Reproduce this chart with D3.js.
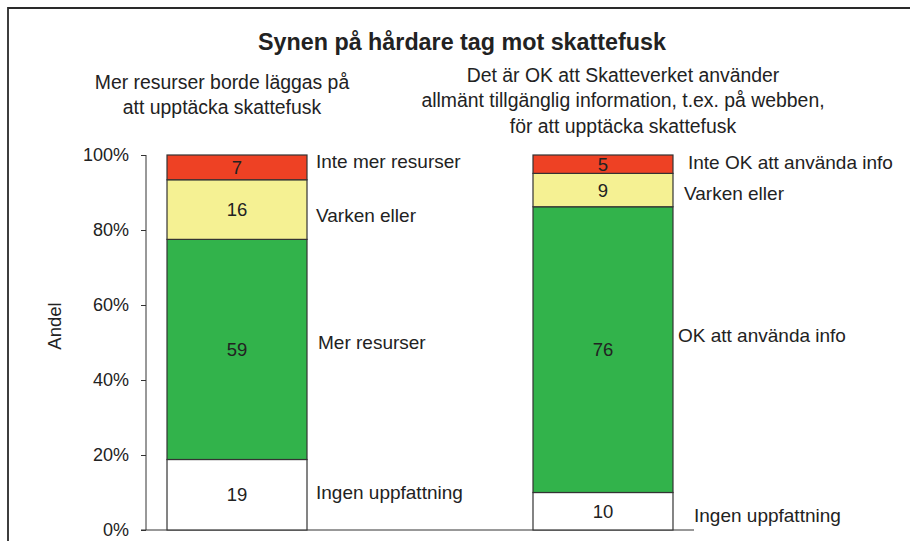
<!DOCTYPE html>
<html>
<head>
<meta charset="utf-8">
<script src="https://cdn.jsdelivr.net/npm/d3@7"></script>
<style>
  body { margin: 0; background: #fff; }
  svg text { font-family: "Liberation Sans", Arial, sans-serif; fill: #222; }
</style>
</head>
<body>
<div id="chart"></div>
<script>
// data
var questions = ["resurser", "info"];
var subtitles = [
	["Mer resurser borde läggas på", "att upptäcka skattefusk"],
	["Det är OK att Skatteverket använder", "allmänt tillgänglig information, t.ex. på webben,", "för att upptäcka skattefusk"]
];
var segmentNames = [
	["Ingen uppfattning", "Mer resurser", "Varken eller", "Inte mer resurser"],
	["Ingen uppfattning", "OK att använda info", "Varken eller", "Inte OK att använda info"]
];
// shares in percent, bottom to top
var shares = [
	[18.8, 58.7, 15.9, 6.6],
	[10.0, 76.2, 8.9, 4.9]
];
var segmentColors = ["#ffffff", "#32b34b", "#f5f193", "#ee4124"];
var yTicks = [0, 20, 40, 60, 80, 100];

// hand-placed label nudges (dx from bar edge, dy from segment middle)
var labelNudge = [
	[[9, -2], [11, -7], [9, 6], [9, -6]],
	[[21, 4], [5, -14], [11, 3], [15, -2]]
];

var width = 910, height = 541;
var margin = {top: 155, bottom: 11, left: 146};

var svg = d3.select("#chart").append("svg")
	.attr("width", width)
	.attr("height", height);

// frame
svg.append("path")
	.attr("d", "M8," + height + "V8H" + width)
	.attr("fill", "none")
	.attr("stroke", "#2a2a2a")
	.attr("stroke-width", 1.8);

var x = d3.scaleBand().domain(questions).range([146, 694])
	.paddingInner(0.6175).paddingOuter(0.0574);
var y = d3.scaleLinear().domain([0, 100]).range([height - margin.bottom, margin.top]);

// title
svg.append("text")
	.attr("x", 462).attr("y", 50)
	.attr("text-anchor", "middle")
	.style("font-size", "23.3px")
	.style("font-weight", "bold")
	.text("Synen på hårdare tag mot skattefusk");

// subtitles
var subX = [222, 623], subY = [82, 75];
subtitles.forEach(function(lines, i) {
	svg.append("g").selectAll("text")
		.data(lines).enter().append("text")
		.attr("x", subX[i])
		.attr("y", function(d, j) { return subY[i] + j * 25.5; })
		.attr("dy", "0.35em")
		.attr("text-anchor", "middle")
		.style("font-size", "19.4px")
		.text(function(d) { return d; });
});

// y axis
var yAxis = d3.axisLeft(y).tickValues(yTicks).tickSize(5).tickPadding(12)
	.tickFormat(function(d) { return d + "%"; });
var gy = svg.append("g")
	.attr("transform", "translate(" + margin.left + ",0)")
	.call(yAxis);
gy.select(".domain").attr("d", "M0," + y(0) + "V" + y(100)).attr("stroke", "#333");
gy.selectAll(".tick line").attr("stroke", "#333");
gy.selectAll(".tick text").style("font-size", "18px").attr("fill", "#222")
	.style("font-family", "'Liberation Sans', Arial, sans-serif");

// baseline
svg.append("line")
	.attr("x1", margin.left - 5).attr("x2", x.range()[1])
	.attr("y1", y(0)).attr("y2", y(0))
	.attr("stroke", "#333");

svg.append("text")
	.attr("transform", "translate(55," + 326 + ") rotate(-90)")
	.attr("text-anchor", "middle")
	.attr("dy", "0.35em")
	.style("font-size", "18.5px")
	.text("Andel");

// stacked bars
questions.forEach(function(q, i) {
	var vals = shares[i];
	var stacked = [], acc = 0;
	vals.forEach(function(v, j) {
		stacked.push({y0: acc, y1: acc + v, v: v, j: j});
		acc += v;
	});
	var g = svg.append("g");
	g.selectAll("rect")
		.data(stacked).enter().append("rect")
		.attr("x", x(q))
		.attr("width", x.bandwidth())
		.attr("y", function(d) { return y(d.y1); })
		.attr("height", function(d) { return y(d.y0) - y(d.y1); })
		.attr("fill", function(d) { return segmentColors[d.j]; })
		.attr("stroke", "#333")
		.attr("stroke-width", 1.2);
	g.selectAll("text.val")
		.data(stacked).enter().append("text")
		.attr("class", "val")
		.attr("x", x(q) + x.bandwidth() / 2)
		.attr("y", function(d) { return y((d.y0 + d.y1) / 2); })
		.attr("dy", "0.35em")
		.attr("text-anchor", "middle")
		.style("font-size", "18.5px")
		.text(function(d) { return d3.format(".0f")(d.v); });
	g.selectAll("text.name")
		.data(stacked).enter().append("text")
		.attr("class", "name")
		.attr("x", function(d) { return x(q) + x.bandwidth() + labelNudge[i][d.j][0]; })
		.attr("y", function(d) { return y((d.y0 + d.y1) / 2) + labelNudge[i][d.j][1]; })
		.attr("dy", "0.35em")
		.style("font-size", "19px")
		.text(function(d) { return segmentNames[i][d.j]; });
});
</script>
</body>
</html>
